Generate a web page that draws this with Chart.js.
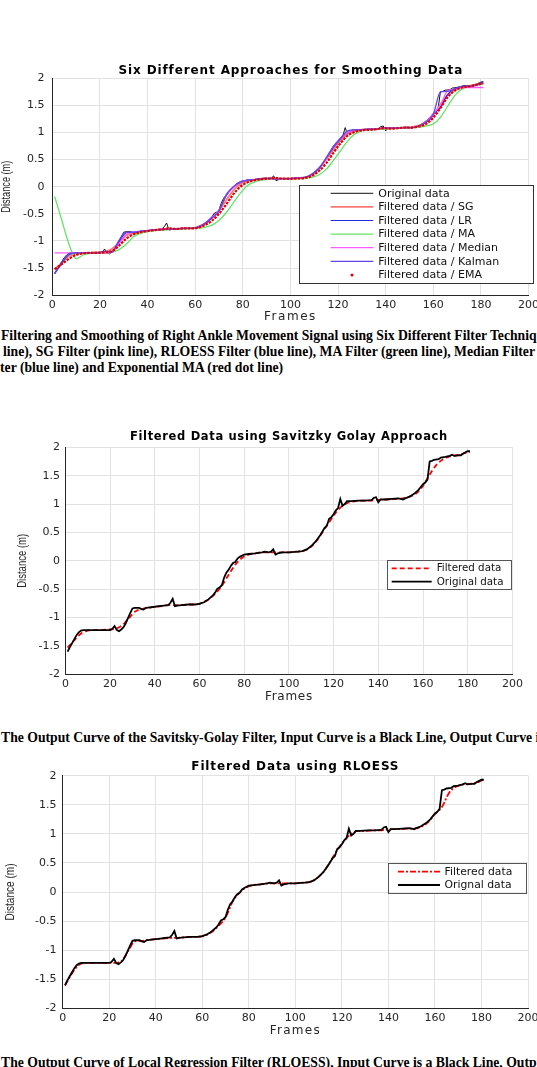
<!DOCTYPE html>
<html>
<head>
<meta charset="utf-8">
<script src="https://cdn.jsdelivr.net/npm/chart.js@4.4.0/dist/chart.umd.min.js"></script>
<style>
  html, body { margin: 0; padding: 0; background: #fff; overflow: hidden; }
  #page { position: relative; width: 537px; height: 1067px; overflow: hidden; background: #fff; }
  canvas { position: absolute; left: 0; }
  .cap { position: absolute; white-space: nowrap; font: bold 13.7px 'Liberation Serif', 'Times New Roman', serif; color: #000; line-height: 16px; }
</style>
</head>
<body>
<div id="page">
  <div class="cap" style="left:1px; top:328px">Filtering and Smoothing of Right Ankle Movement Signal using Six Different Filter Techniques: Original data (black</div>
  <div class="cap" style="left:3px; top:344px">line), SG Filter (pink line), RLOESS Filter (blue line), MA Filter (green line), Median Filter (pink line), Kalman</div>
  <div class="cap" style="left:0px; top:360px">ter (blue line) and Exponential MA (red dot line)</div>
  <div class="cap" style="left:1px; top:730px">The Output Curve of the Savitsky-Golay Filter, Input Curve is a Black Line, Output Curve is a Red Line</div>
  <div class="cap" style="left:1px; top:1055px">The Output Curve of Local Regression Filter (RLOESS), Input Curve is a Black Line, Output Curve is a Red Line</div>
  <canvas id="c1" width="537" height="280" style="top:50px"></canvas>
  <canvas id="c2" width="537" height="300" style="top:410px"></canvas>
  <canvas id="c3" width="537" height="310" style="top:740px"></canvas>
</div>
<script>
// tick labels
const xTicks = [0, 20, 40, 60, 80, 100, 120, 140, 160, 180, 200];
const yTicks = [-2, -1.5, -1, -0.5, 0, 0.5, 1, 1.5, 2];

// raw ankle signal (frame, distance)
const origFrames = [
  1, 2, 3, 4, 5, 6, 7, 8, 10, 14,
  18, 20, 21, 22, 23, 24, 25, 26, 27, 28,
  29, 30, 31, 33, 34, 35, 36, 38, 40, 42,
  44, 46, 47, 48, 49, 50, 52, 55, 58, 60,
  62, 64, 66, 67, 68, 69, 70, 71, 72, 73,
  74, 75, 76, 77, 78, 80, 82, 85, 88, 89,
  91, 92, 93, 94, 95, 97, 100, 104, 106, 108,
  110, 112, 114, 116, 117, 118, 119, 120, 121, 122,
  123, 124, 125, 126, 128, 131, 134, 137, 138, 139,
  140, 141, 143, 146, 149, 150, 151, 152, 154, 156,
  158, 159, 160, 161, 162, 163, 164, 165, 167, 168,
  170, 172, 173, 174, 176, 177, 178, 180, 181
];
const original = [
  -1.60, -1.52, -1.45, -1.38, -1.31, -1.26, -1.23, -1.22, -1.22, -1.22,
  -1.22, -1.22, -1.20, -1.15, -1.22, -1.24, -1.21, -1.17, -1.10, -1.01,
  -0.92, -0.84, -0.83, -0.83, -0.85, -0.86, -0.83, -0.82, -0.81, -0.80,
  -0.79, -0.78, -0.74, -0.67, -0.80, -0.79, -0.78, -0.77, -0.77, -0.76,
  -0.73, -0.68, -0.61, -0.56, -0.49, -0.47, -0.43, -0.30, -0.21, -0.16,
  -0.09, -0.04, -0.02, 0.04, 0.07, 0.11, 0.12, 0.13, 0.15, 0.16,
  0.15, 0.16, 0.20, 0.11, 0.13, 0.15, 0.15, 0.16, 0.17, 0.20,
  0.26, 0.34, 0.45, 0.58, 0.62, 0.74, 0.77, 0.82, 0.89, 0.93,
  1.09, 0.97, 1.00, 1.05, 1.05, 1.06, 1.06, 1.07, 1.11, 1.12,
  1.03, 1.08, 1.08, 1.09, 1.10, 1.09, 1.08, 1.10, 1.13, 1.18,
  1.25, 1.30, 1.35, 1.38, 1.43, 1.75, 1.76, 1.78, 1.79, 1.82,
  1.83, 1.85, 1.87, 1.85, 1.86, 1.86, 1.89, 1.93, 1.93
];

// filter outputs, read every third frame
const smoothFrames = [
  1, 4, 7, 10, 13, 16, 19, 22, 25, 28,
  31, 34, 37, 40, 43, 46, 49, 52, 55, 58,
  61, 64, 67, 70, 73, 76, 79, 82, 85, 88,
  91, 94, 97, 100, 103, 106, 109, 112, 115, 118,
  121, 124, 127, 130, 133, 136, 139, 142, 145, 148,
  151, 154, 157, 160, 163, 166, 169, 172, 175, 178,
  181
];
const sgFiltered = [
  -1.53, -1.40, -1.28, -1.23, -1.22, -1.22, -1.21, -1.20, -1.15, -1.03,
  -0.90, -0.85, -0.83, -0.81, -0.80, -0.78, -0.78, -0.78, -0.77, -0.77,
  -0.74, -0.68, -0.58, -0.44, -0.25, -0.07, 0.05, 0.11, 0.13, 0.15,
  0.15, 0.15, 0.15, 0.15, 0.16, 0.17, 0.22, 0.33, 0.50, 0.68,
  0.85, 0.97, 1.03, 1.05, 1.06, 1.06, 1.07, 1.08, 1.08, 1.09,
  1.10, 1.13, 1.19, 1.32, 1.52, 1.69, 1.79, 1.84, 1.86, 1.89,
  1.92
];
const lrFiltered = [
  -1.61, -1.40, -1.25, -1.22, -1.22, -1.22, -1.22, -1.22, -1.20, -1.02,
  -0.85, -0.84, -0.82, -0.81, -0.80, -0.79, -0.79, -0.78, -0.77, -0.77,
  -0.75, -0.69, -0.58, -0.44, -0.17, -0.01, 0.08, 0.12, 0.13, 0.15,
  0.15, 0.15, 0.15, 0.15, 0.16, 0.17, 0.23, 0.34, 0.52, 0.72,
  0.88, 1.00, 1.05, 1.05, 1.06, 1.06, 1.07, 1.08, 1.08, 1.09,
  1.09, 1.12, 1.20, 1.34, 1.46, 1.70, 1.81, 1.85, 1.86, 1.88,
  1.94
];
const maFiltered = [
  -0.18, -0.62, -1.06, -1.33, -1.26, -1.23, -1.22, -1.22, -1.21, -1.16,
  -1.06, -0.93, -0.86, -0.83, -0.81, -0.80, -0.79, -0.78, -0.78, -0.77,
  -0.77, -0.75, -0.71, -0.62, -0.48, -0.30, -0.12, 0.02, 0.09, 0.12,
  0.14, 0.15, 0.15, 0.15, 0.15, 0.15, 0.17, 0.22, 0.32, 0.48,
  0.66, 0.84, 0.97, 1.03, 1.05, 1.06, 1.06, 1.07, 1.08, 1.08,
  1.09, 1.10, 1.12, 1.16, 1.28, 1.48, 1.68, 1.80, 1.85, 1.87,
  1.89
];
const medianFiltered = [
  -1.22, -1.22, -1.22, -1.22, -1.22, -1.22, -1.22, -1.22, -1.21, -1.05,
  -0.88, -0.84, -0.83, -0.81, -0.80, -0.78, -0.79, -0.78, -0.77, -0.77,
  -0.75, -0.68, -0.56, -0.44, -0.16, -0.02, 0.09, 0.12, 0.13, 0.15,
  0.15, 0.15, 0.15, 0.15, 0.16, 0.17, 0.23, 0.34, 0.52, 0.74,
  0.89, 1.00, 1.05, 1.05, 1.06, 1.06, 1.08, 1.08, 1.08, 1.09,
  1.09, 1.12, 1.20, 1.35, 1.50, 1.77, 1.80, 1.83, 1.83, 1.83,
  1.83
];
const kalmanFiltered = [
  -1.60, -1.42, -1.24, -1.22, -1.22, -1.22, -1.22, -1.19, -1.21, -0.99,
  -0.84, -0.84, -0.83, -0.81, -0.80, -0.79, -0.78, -0.78, -0.77, -0.77,
  -0.75, -0.68, -0.57, -0.45, -0.15, 0.00, 0.09, 0.12, 0.13, 0.15,
  0.16, 0.14, 0.15, 0.15, 0.16, 0.17, 0.23, 0.34, 0.53, 0.74,
  0.89, 1.03, 1.05, 1.05, 1.06, 1.06, 1.09, 1.08, 1.08, 1.09,
  1.09, 1.12, 1.19, 1.33, 1.75, 1.76, 1.80, 1.85, 1.85, 1.87,
  1.92
];
const emaFiltered = [
  -1.52, -1.43, -1.33, -1.26, -1.23, -1.22, -1.22, -1.21, -1.19, -1.09,
  -0.96, -0.88, -0.84, -0.82, -0.80, -0.79, -0.77, -0.78, -0.77, -0.77,
  -0.76, -0.71, -0.63, -0.50, -0.33, -0.14, 0.00, 0.08, 0.12, 0.14,
  0.15, 0.16, 0.15, 0.15, 0.15, 0.16, 0.20, 0.29, 0.43, 0.62,
  0.80, 0.94, 1.01, 1.04, 1.05, 1.06, 1.08, 1.07, 1.08, 1.09,
  1.09, 1.11, 1.16, 1.27, 1.45, 1.65, 1.77, 1.83, 1.85, 1.88,
  1.91
];

const pts = (xs, ys) => xs.map((x, i) => ({ x: x, y: ys[i] }));

const axisColor = '#262626';
const gridColor = '#e2e2e2';
const tickFont = { family: 'DejaVu Sans', size: 11 };

// spread text so it spans a given width (matlab fonts look wide)
function spacedText(ctx, text, cx, cy, width) {
  ctx.letterSpacing = '0px';
  const w = ctx.measureText(text).width;
  ctx.letterSpacing = ((width - w) / text.length) + 'px';
  ctx.textAlign = 'left';
  ctx.textBaseline = 'middle';
  ctx.fillText(text, cx - width / 2, cy);
  ctx.letterSpacing = '0px';
}

// title, axis labels and the boxed legend, drawn matlab style
const matlabPlugin = {
  id: 'matlab',
  afterDraw(chart, args, o) {
    const ctx = chart.ctx;
    const a = chart.chartArea;
    const oy = chart.canvas.offsetTop;
    const cx = (a.left + a.right) / 2;
    ctx.save();
    ctx.fillStyle = '#000';
    ctx.font = 'bold ' + o.titleSize + 'px "DejaVu Sans"';
    spacedText(ctx, o.title, cx, a.top - o.titleGap, o.titleWidth);

    ctx.fillStyle = axisColor;
    ctx.font = '12px "DejaVu Sans"';
    spacedText(ctx, 'Frames', cx, a.bottom + o.xlabelGap, o.xlabelWidth);

    ctx.save();
    ctx.translate(a.left - o.ylabelOff, (a.top + a.bottom) / 2);
    ctx.rotate(-Math.PI / 2);
    ctx.font = '12.5px "Liberation Sans Narrow", "Liberation Sans", sans-serif';
    const yw = ctx.measureText('Distance (m)').width;
    ctx.scale(o.ylabelLen / yw, 1);
    ctx.textAlign = 'center';
    ctx.textBaseline = 'middle';
    ctx.fillText('Distance (m)', 0, 0);
    ctx.restore();

    const L = o.legend;
    const lx = L.x, ly = L.y - oy;
    ctx.fillStyle = '#fff';
    ctx.fillRect(lx, ly, L.w, L.h);
    ctx.strokeStyle = L.border;
    ctx.lineWidth = 1;
    ctx.strokeRect(Math.round(lx) + 0.5, Math.round(ly) + 0.5, Math.round(L.w), Math.round(L.h));
    ctx.font = L.font + 'px "DejaVu Sans"';
    ctx.textAlign = 'left';
    ctx.textBaseline = 'middle';
    chart.data.datasets.forEach((ds, i) => {
      const y = ly + L.first + i * L.step;
      if (ds.legendDot) {
        ctx.fillStyle = ds.borderColor;
        ctx.beginPath();
        ctx.arc(lx + (L.s0 + L.s1) / 2, y, 1.5, 0, Math.PI * 2);
        ctx.fill();
      } else {
        ctx.strokeStyle = ds.borderColor;
        ctx.lineWidth = ds.borderWidth;
        ctx.setLineDash(ds.borderDash || []);
        ctx.beginPath();
        ctx.moveTo(lx + L.s0, y);
        ctx.lineTo(lx + L.s1, y);
        ctx.stroke();
        ctx.setLineDash([]);
      }
      ctx.fillStyle = '#111';
      ctx.fillText(ds.label, lx + L.tx, y + 0.5);
    });
    ctx.restore();
  }
};

function makeChart(id, datasets, box, deco) {
  return new Chart(document.getElementById(id), {
    type: 'line',
    data: { datasets: datasets },
    options: {
      responsive: false,
      devicePixelRatio: 1,
      animation: false,
      events: [],
      layout: { padding: { top: box.top, right: box.right, left: 0, bottom: 0 } },
      elements: { point: { radius: 0 } },
      plugins: { legend: { display: false }, tooltip: { enabled: false }, matlab: deco },
      scales: {
        x: {
          type: 'linear', min: 0, max: 200,
          afterBuildTicks: s => { s.ticks = xTicks.map(v => ({ value: v })); },
          afterFit: s => { s.height = box.xh; s.paddingLeft = 0; s.paddingRight = 0; },
          grid: { color: gridColor, drawTicks: false },
          border: { color: axisColor, width: 1 },
          ticks: { padding: 3, color: axisColor, font: tickFont, maxRotation: 0, autoSkip: false, callback: v => String(v) }
        },
        y: {
          type: 'linear', min: -2, max: 2,
          afterBuildTicks: s => { s.ticks = yTicks.map(v => ({ value: v })); },
          afterFit: s => { s.width = box.left; s.paddingTop = 0; s.paddingBottom = 0; },
          grid: { color: gridColor, drawTicks: false },
          border: { color: axisColor, width: 1 },
          ticks: { padding: box.yPad, color: axisColor, font: tickFont, callback: v => String(v) }
        }
      }
    },
    plugins: [matlabPlugin]
  });
}

document.addEventListener('DOMContentLoaded', function () {
  const smooth = { fill: false, cubicInterpolationMode: 'monotone' };

  makeChart('c1', [
    { label: 'Original data', data: pts(origFrames, original), borderColor: '#111111', borderWidth: 1, tension: 0, order: 7 },
    Object.assign({ label: 'Filtered data / SG', data: pts(smoothFrames, sgFiltered), borderColor: 'rgb(250,120,120)', borderWidth: 1.8, order: 6 }, smooth),
    Object.assign({ label: 'Filtered data / LR', data: pts(smoothFrames, lrFiltered), borderColor: 'rgb(40,40,225)', borderWidth: 1.2, order: 5 }, smooth),
    Object.assign({ label: 'Filtered data / MA', data: pts(smoothFrames, maFiltered), borderColor: 'rgb(100,228,100)', borderWidth: 1.3, order: 4 }, smooth),
    Object.assign({ label: 'Filtered data / Median', data: pts(smoothFrames, medianFiltered), borderColor: 'rgb(255,90,255)', borderWidth: 1.3, order: 3 }, smooth),
    Object.assign({ label: 'Filtered data / Kalman', data: pts(smoothFrames, kalmanFiltered), borderColor: 'rgb(100,70,230)', borderWidth: 1.3, order: 2 }, smooth),
    Object.assign({ label: 'Filtered data / EMA', data: pts(smoothFrames, emaFiltered), borderColor: 'rgb(225,0,0)', borderWidth: 2.2, borderDash: [2.5, 1.2], legendDot: true, order: 1 }, smooth)
  ], { top: 28.3, right: 8.5, left: 52.3, xh: 34.9, yPad: 7.8 }, {
    title: 'Six Different Approaches for Smoothing Data', titleSize: 12, titleGap: 7.6, titleWidth: 344,
    xlabelGap: 21.3, xlabelWidth: 53, ylabelOff: 45.3, ylabelLen: 52,
    legend: { x: 299.3, y: 185, w: 234, h: 97.7, first: 8.3, step: 13.6, s0: 31.4, s1: 74, tx: 79, font: 11, border: '#333' }
  });

  makeChart('c2', [
    Object.assign({ label: 'Filtered data', data: pts(smoothFrames, sgFiltered), borderColor: '#ff0000', borderWidth: 1.8, borderDash: [5, 3], order: 2 }, smooth),
    { label: 'Original data', data: pts(origFrames, original), borderColor: '#000000', borderWidth: 1.8, tension: 0, order: 1 }
  ], { top: 37.3, right: 24.6, left: 65.4, xh: 35.7, yPad: 5.4 }, {
    title: 'Filtered Data using Savitzky Golay Approach', titleSize: 11.5, titleGap: 10.6, titleWidth: 318,
    xlabelGap: 22.4, xlabelWidth: 48, ylabelOff: 42.4, ylabelLen: 54,
    legend: { x: 387.3, y: 560, w: 124, h: 29.3, first: 8.3, step: 13.4, s0: 4.4, s1: 44.4, tx: 49.4, font: 10.3, border: '#555' }
  });

  makeChart('c3', [
    Object.assign({ label: 'Filtered data', data: pts(smoothFrames, lrFiltered), borderColor: '#ff0000', borderWidth: 1.8, borderDash: [6, 2, 2, 2], order: 2 }, smooth),
    { label: 'Orignal data', data: pts(origFrames, original), borderColor: '#000000', borderWidth: 1.8, tension: 0, order: 1 }
  ], { top: 35.7, right: 9, left: 62.7, xh: 41.7, yPad: 6.2 }, {
    title: 'Filtered Data using RLOESS', titleSize: 12, titleGap: 9, titleWidth: 208,
    xlabelGap: 22.7, xlabelWidth: 51.4, ylabelOff: 51.7, ylabelLen: 57,
    legend: { x: 388, y: 862.7, w: 138.4, h: 29.6, first: 9, step: 13.3, s0: 10, s1: 52, tx: 56.5, font: 10.8, border: '#555' }
  });
});
</script>
</body>
</html>
